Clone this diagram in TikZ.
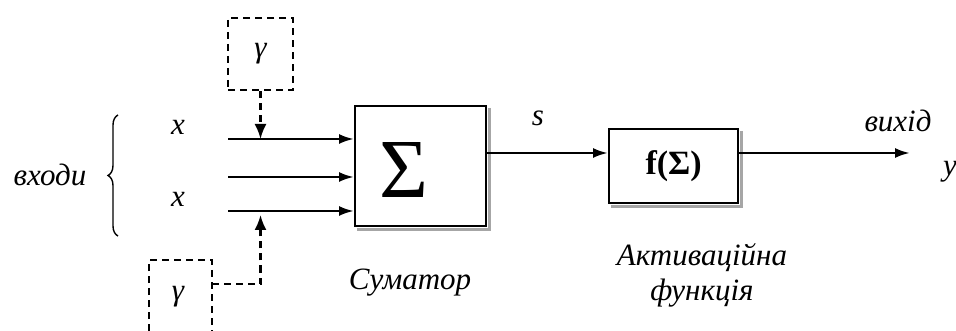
\documentclass[tikz,border=0pt]{standalone}
\usepackage{fontspec}
\setmainfont{Liberation Serif}
\newfontfamily\tms{Liberation Serif}
\usetikzlibrary{arrows.meta,decorations.pathreplacing,calc}
\begin{document}
\begin{tikzpicture}[x=1pt,y=-1pt,
  lbl/.style={font=\tms\fontsize{31}{33}\selectfont\itshape, inner sep=0pt},
  blk/.style={draw, line width=2.2pt, inner sep=0pt, anchor=north west},
  shadowline/.style={draw=gray!70, line width=3pt},
  dbox/.style={draw, dash pattern=on 7pt off 5pt, line width=2.2pt},
  arr/.style={line width=2.5pt, -{Latex[length=15pt,width=10pt]}},
  darr/.style={line width=2.2pt, dash pattern=on 7pt off 5pt, -{Latex[length=15pt,width=12pt]}}]
\useasboundingbox (0,0) rectangle (956,331);

% summator
\node[blk, minimum width=131pt, minimum height=120pt] (sum) at (354,105) {};
\draw[shadowline] ($(sum.north east)+(2.5,3)$) -- ($(sum.south east)+(2.5,2.5)$) -- ($(sum.south west)+(3,2.5)$);
\node[inner sep=0pt, font=\tms\fontsize{84}{84}\selectfont] (sig) at (404,170) {Σ};

% activation box
\node[blk, minimum width=129pt, minimum height=74pt, font=\tms\fontsize{34}{34}\selectfont\bfseries] (fbox) at (608,128) {f(Σ)};
\draw[shadowline] ($(fbox.north east)+(2.5,3)$) -- ($(fbox.south east)+(2.5,2.5)$) -- ($(fbox.south west)+(3,2.5)$);

% inputs
\coordinate (in1) at (228,139);
\coordinate (in2) at (228,177);
\coordinate (in3) at (228,211);
\draw[arr] (in1) -- (in1 -| sum.west);
\draw[arr] (in2) -- (in2 -| sum.west);
\draw[arr] (in3) -- (in3 -| sum.west);

% output chain
\coordinate (lvl) at (0,153);
\coordinate (out) at (910,153);
\draw[arr] (sum.east |- lvl) -- (fbox.west |- lvl);
\draw[arr] (fbox.east |- lvl) -- (out);

% gamma boxes
\node[dbox, lbl, minimum width=65pt, minimum height=72pt] (gtop) at (260.5,54) {γ};
\draw[darr] (gtop.south) -- (gtop.south |- in1);
\node[lbl] (gbot) at (178,297) {γ};
\draw[dbox] (149,331) |- (212,260) -- (212,331);
\coordinate (gb) at (212,284);
\draw[darr] (gb) -| ($(gtop.south |- in3)+(0,4)$);

% brace and labels
\draw[line width=1.4pt, decorate, decoration={brace, amplitude=10pt}] (118,236) -- (118,115);
\node[lbl] (vhody) at (50,175) {входи};
\node[lbl] (x1) at (178,127) {x};
\node[lbl] (x2) at (178,199) {x};
\node[lbl] (s) at (538,118) {s};
\node[lbl] (vyhid) at (898,121) {вихід};
\node[lbl, anchor=west] (y) at (943,172) {y};
\node[lbl] (sumlbl) at (410,283) {Суматор};
\node[lbl] (act) at (702,258) {Активаційна};
\node[lbl] (fn) at (702,293) {функція};
\end{tikzpicture}
\end{document}
